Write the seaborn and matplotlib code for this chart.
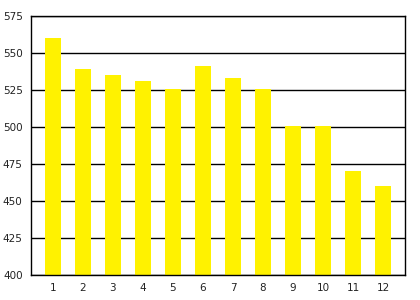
import matplotlib
matplotlib.use("Agg")
import matplotlib.pyplot as plt
import seaborn as sns
import pandas as pd

categories = ["1", "2", "3", "4", "5", "6", "7", "8", "9", "10", "11", "12"]
values = [560, 539, 535, 531, 526, 541, 533, 526, 501, 501, 470, 460]
y_ticks = [400, 425, 450, 475, 500, 525, 550, 575]

sns.set_style("white")
plt.rcParams['font.family'] = ['DejaVu Sans']

df = pd.DataFrame({"cat": categories, "val": values})

fig = plt.figure(figsize=(4.2, 3.0), dpi=100)
ax = fig.add_axes([31/420, 25/300, 374/420, 259/300])
sns.barplot(data=df, x="cat", y="val", order=categories, color="#fff200",
            saturation=1, width=0.53, ax=ax, edgecolor="none", linewidth=0)

ax.set_ylim(400, 575)
ax.set_xlim(-0.73, 11.73)
ax.set_yticks(y_ticks)
ax.set_yticklabels([str(t) for t in y_ticks])
ax.set_axisbelow(True)
ax.yaxis.grid(True, color="black", linewidth=1)
ax.xaxis.grid(False)
ax.set_xlabel("")
ax.set_ylabel("")
for s in ax.spines.values():
    s.set_visible(True)
    s.set_color("black")
    s.set_linewidth(1)
ax.tick_params(axis="both", length=0, labelsize=7.5, colors="#222222")
ax.tick_params(axis="y", pad=6)
ax.tick_params(axis="x", pad=6)

fig.savefig("out.png", dpi=100, facecolor="white")
